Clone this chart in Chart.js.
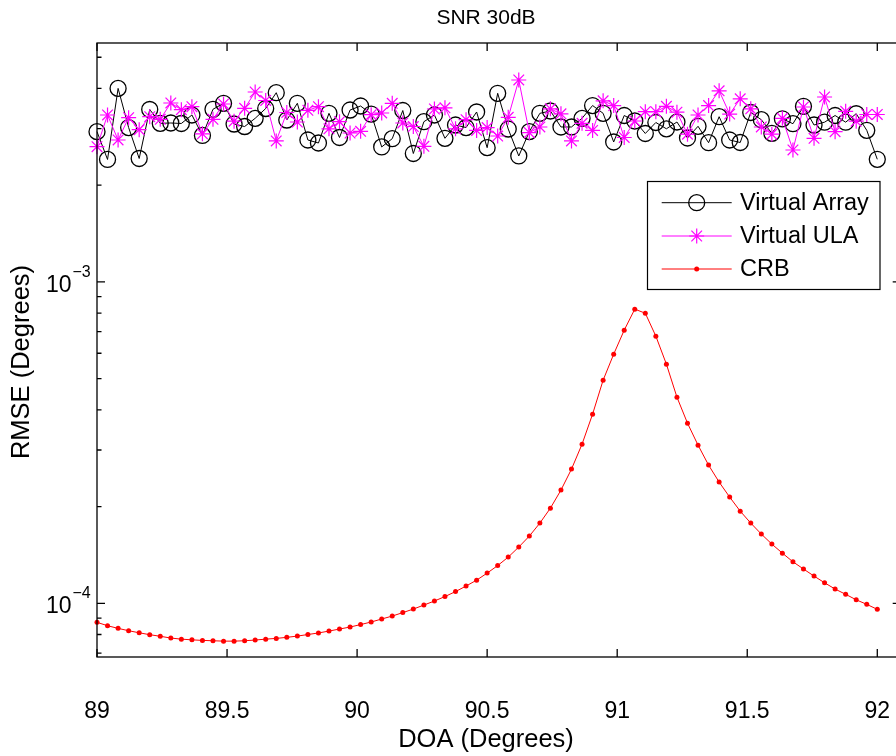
<!DOCTYPE html>
<html>
<head>
<meta charset="utf-8">
<script src="https://cdn.jsdelivr.net/npm/chart.js@4.4.1/dist/chart.umd.min.js"></script>
<style>
  html, body { margin: 0; padding: 0; background: #fff; overflow: hidden; }
  #wrap { width: 910px; height: 756px; }
</style>
</head>
<body>
<div id="wrap"><canvas id="rmse" width="910" height="756"></canvas></div>
<script>
// DOA grid (degrees)
const doa = [
  89.0000, 89.0405, 89.0811, 89.1216, 89.1622, 89.2027, 89.2432, 89.2838, 89.3243, 89.3649,
  89.4054, 89.4459, 89.4865, 89.5270, 89.5676, 89.6081, 89.6486, 89.6892, 89.7297, 89.7703,
  89.8108, 89.8514, 89.8919, 89.9324, 89.9730, 90.0135, 90.0541, 90.0946, 90.1351, 90.1757,
  90.2162, 90.2568, 90.2973, 90.3378, 90.3784, 90.4189, 90.4595, 90.5000, 90.5405, 90.5811,
  90.6216, 90.6622, 90.7027, 90.7432, 90.7838, 90.8243, 90.8649, 90.9054, 90.9459, 90.9865,
  91.0270, 91.0676, 91.1081, 91.1486, 91.1892, 91.2297, 91.2703, 91.3108, 91.3514, 91.3919,
  91.4324, 91.4730, 91.5135, 91.5541, 91.5946, 91.6351, 91.6757, 91.7162, 91.7568, 91.7973,
  91.8378, 91.8784, 91.9189, 91.9595, 92.0000
];

// RMSE (degrees)
const virtualArray = [
  2.934e-3, 2.404e-3, 4.000e-3, 3.022e-3, 2.421e-3, 3.439e-3, 3.115e-3, 3.122e-3, 3.111e-3, 3.306e-3,
  2.855e-3, 3.444e-3, 3.595e-3, 3.099e-3, 3.044e-3, 3.228e-3, 3.463e-3, 3.878e-3, 3.189e-3, 3.595e-3,
  2.764e-3, 2.705e-3, 3.346e-3, 2.814e-3, 3.426e-3, 3.526e-3, 3.329e-3, 2.630e-3, 2.790e-3, 3.414e-3,
  2.509e-3, 3.151e-3, 3.306e-3, 2.798e-3, 3.077e-3, 3.022e-3, 3.378e-3, 2.616e-3, 3.862e-3, 2.990e-3,
  2.465e-3, 2.934e-3, 3.346e-3, 3.402e-3, 3.034e-3, 3.034e-3, 3.228e-3, 3.538e-3, 3.346e-3, 2.725e-3,
  3.294e-3, 3.167e-3, 2.896e-3, 3.133e-3, 2.995e-3, 3.144e-3, 2.804e-3, 3.049e-3, 2.711e-3, 3.266e-3,
  2.764e-3, 2.715e-3, 3.366e-3, 3.196e-3, 2.900e-3, 3.217e-3, 3.106e-3, 3.518e-3, 3.077e-3, 3.140e-3,
  3.294e-3, 3.140e-3, 3.336e-3, 2.963e-3, 2.407e-3
];

const virtualULA = [
  2.635e-3, 3.306e-3, 2.764e-3, 3.243e-3, 2.975e-3, 3.266e-3, 3.205e-3, 3.603e-3, 3.434e-3, 3.509e-3,
  2.889e-3, 3.205e-3, 3.577e-3, 3.162e-3, 3.468e-3, 3.898e-3, 3.668e-3, 2.745e-3, 3.366e-3, 3.144e-3,
  3.419e-3, 3.509e-3, 2.995e-3, 3.151e-3, 2.906e-3, 2.942e-3, 3.313e-3, 3.354e-3, 3.595e-3, 3.122e-3,
  3.044e-3, 2.642e-3, 3.451e-3, 3.481e-3, 2.995e-3, 3.196e-3, 2.959e-3, 3.022e-3, 2.844e-3, 3.252e-3,
  4.248e-3, 2.913e-3, 3.034e-3, 3.456e-3, 3.334e-3, 2.745e-3, 3.115e-3, 2.959e-3, 3.660e-3, 3.538e-3,
  2.814e-3, 3.167e-3, 3.385e-3, 3.385e-3, 3.518e-3, 3.373e-3, 2.881e-3, 3.306e-3, 3.538e-3, 3.932e-3,
  3.329e-3, 3.713e-3, 3.456e-3, 3.034e-3, 2.881e-3, 3.228e-3, 2.573e-3, 3.501e-3, 2.798e-3, 3.761e-3,
  2.934e-3, 3.395e-3, 3.162e-3, 3.318e-3, 3.318e-3
];

const crb = [
  0.873e-4, 0.852e-4, 0.836e-4, 0.822e-4, 0.810e-4, 0.799e-4, 0.790e-4, 0.780e-4, 0.774e-4, 0.770e-4,
  0.767e-4, 0.765e-4, 0.763e-4, 0.763e-4, 0.765e-4, 0.769e-4, 0.774e-4, 0.778e-4, 0.784e-4, 0.791e-4,
  0.800e-4, 0.809e-4, 0.820e-4, 0.832e-4, 0.844e-4, 0.859e-4, 0.875e-4, 0.894e-4, 0.913e-4, 0.936e-4,
  0.960e-4, 0.988e-4, 1.017e-4, 1.050e-4, 1.088e-4, 1.132e-4, 1.181e-4, 1.242e-4, 1.311e-4, 1.393e-4,
  1.497e-4, 1.619e-4, 1.777e-4, 1.978e-4, 2.251e-4, 2.616e-4, 3.128e-4, 3.878e-4, 4.947e-4, 5.959e-4,
  7.077e-4, 8.228e-4, 7.991e-4, 6.780e-4, 5.548e-4, 4.380e-4, 3.636e-4, 3.106e-4, 2.692e-4, 2.384e-4,
  2.141e-4, 1.936e-4, 1.777e-4, 1.643e-4, 1.529e-4, 1.433e-4, 1.347e-4, 1.279e-4, 1.216e-4, 1.159e-4,
  1.108e-4, 1.067e-4, 1.026e-4, 0.993e-4, 0.958e-4
];

const xTicks = [89, 89.5, 90, 90.5, 91, 91.5, 92];
const xTickLabels = ['89', '89.5', '90', '90.5', '91', '91.5', '92'];
const yDecades = [-4, -3];

const FONT = "'Liberation Sans', Arial, Helvetica, sans-serif";

function pairs(ys) {
  return doa.map((x, i) => ({x: x, y: ys[i]}));
}

// box, inward ticks, labels and legend in the old MATLAB look
const matlabAxes = {
  id: 'matlabAxes',
  afterDraw(chart) {
    const ctx = chart.ctx;
    const a = chart.chartArea;
    const xs = chart.scales.x;
    const ys = chart.scales.y;
    ctx.save();
    ctx.strokeStyle = '#000';
    ctx.fillStyle = '#000';
    ctx.lineWidth = 1.3;
    ctx.strokeRect(a.left, a.top, a.right - a.left, a.bottom - a.top);

    // x ticks
    ctx.beginPath();
    xTicks.forEach(v => {
      const px = xs.getPixelForValue(v);
      ctx.moveTo(px, a.bottom); ctx.lineTo(px, a.bottom - 8);
      ctx.moveTo(px, a.top); ctx.lineTo(px, a.top + 8);
    });
    // y ticks, majors plus log minors
    for (let d = -5; d <= -2; d++) {
      for (let m = 1; m <= 9; m++) {
        const v = m * Math.pow(10, d);
        if (v < ys.min || v > ys.max) continue;
        const py = ys.getPixelForValue(v);
        const len = m === 1 ? 8 : 4.5;
        ctx.moveTo(a.left, py); ctx.lineTo(a.left + len, py);
        ctx.moveTo(a.right, py); ctx.lineTo(a.right - len, py);
      }
    }
    ctx.stroke();

    // tick labels
    ctx.font = '23px ' + FONT;
    ctx.textAlign = 'center';
    ctx.textBaseline = 'alphabetic';
    xTicks.forEach((v, i) => {
      ctx.fillText(xTickLabels[i], xs.getPixelForValue(v), 717.5);
    });
    yDecades.forEach(e => {
      const py = ys.getPixelForValue(Math.pow(10, e));
      ctx.font = '23px ' + FONT;
      ctx.textAlign = 'right';
      ctx.fillText('10', 71.5, py + 10);
      ctx.font = '16px ' + FONT;
      ctx.textAlign = 'left';
      ctx.fillText('\u2212' + Math.abs(e), 72.5, py - 5);
    });

    // title and axis labels
    ctx.font = '21px ' + FONT;
    ctx.textAlign = 'center';
    ctx.textBaseline = 'middle';
    ctx.fillText('SNR 30dB', 486, 18);
    ctx.font = '25.5px ' + FONT;
    ctx.fillText('DOA (Degrees)', 486, 740);
    ctx.save();
    ctx.translate(22, 362);
    ctx.rotate(-Math.PI / 2);
    ctx.fillText('RMSE (Degrees)', 0, 0);
    ctx.restore();

    // legend
    const lx = 647.5, ly = 181.5, lw = 232.5, lh = 108;
    ctx.fillStyle = '#fff';
    ctx.fillRect(lx, ly, lw, lh);
    ctx.lineWidth = 1.2;
    ctx.strokeStyle = '#000';
    ctx.strokeRect(lx, ly, lw, lh);
    const rows = [202.7, 236, 269];
    chart.data.datasets.forEach((ds, i) => {
      const y = rows[i];
      ctx.strokeStyle = ds.borderColor;
      ctx.lineWidth = ds.borderWidth;
      ctx.beginPath();
      ctx.moveTo(661.7, y); ctx.lineTo(731.7, y);
      ctx.stroke();
      ctx.strokeStyle = ds.pointBorderColor;
      ctx.fillStyle = ds.pointBackgroundColor;
      ctx.lineWidth = ds.pointBorderWidth;
      Chart.helpers.drawPoint(ctx, {pointStyle: ds.pointStyle, radius: ds.pointRadius, rotation: 0, borderWidth: ds.pointBorderWidth}, 696.7, y);
      ctx.fillStyle = '#000';
      ctx.font = '23.5px ' + FONT;
      ctx.textAlign = 'left';
      ctx.textBaseline = 'middle';
      ctx.fillText(ds.label, 740, y + 1);
    });
    ctx.restore();
  }
};

new Chart(document.getElementById('rmse'), {
  type: 'line',
  data: {
    datasets: [
      {
        label: 'Virtual Array', data: pairs(virtualArray),
        borderColor: '#000000', borderWidth: 1,
        pointStyle: 'circle', pointRadius: 8, pointBorderWidth: 1.3,
        pointBorderColor: '#000000', pointBackgroundColor: 'rgba(0,0,0,0)',
        order: 3, clip: false
      },
      {
        label: 'Virtual ULA', data: pairs(virtualULA),
        borderColor: '#ff00ff', borderWidth: 1,
        pointStyle: 'star', pointRadius: 7.5, pointBorderWidth: 1.2,
        pointBorderColor: '#ff00ff', pointBackgroundColor: '#ff00ff',
        order: 2, clip: false
      },
      {
        label: 'CRB', data: pairs(crb),
        borderColor: '#ff0000', borderWidth: 1,
        pointStyle: 'circle', pointRadius: 2.5, pointBorderWidth: 0,
        pointBorderColor: '#ff0000', pointBackgroundColor: '#ff0000',
        order: 1, clip: false
      }
    ]
  },
  options: {
    responsive: false,
    animation: false,
    devicePixelRatio: 1,
    events: [],
    layout: {padding: {left: 97, top: 43, right: 9, bottom: 99}},
    elements: {line: {tension: 0}},
    scales: {
      x: {type: 'linear', min: 89, max: 92.09, display: false},
      y: {type: 'logarithmic', min: 6.81e-5, max: 5.537e-3, display: false}
    },
    plugins: {legend: {display: false}, tooltip: {enabled: false}}
  },
  plugins: [matlabAxes]
});
</script>
</body>
</html>
